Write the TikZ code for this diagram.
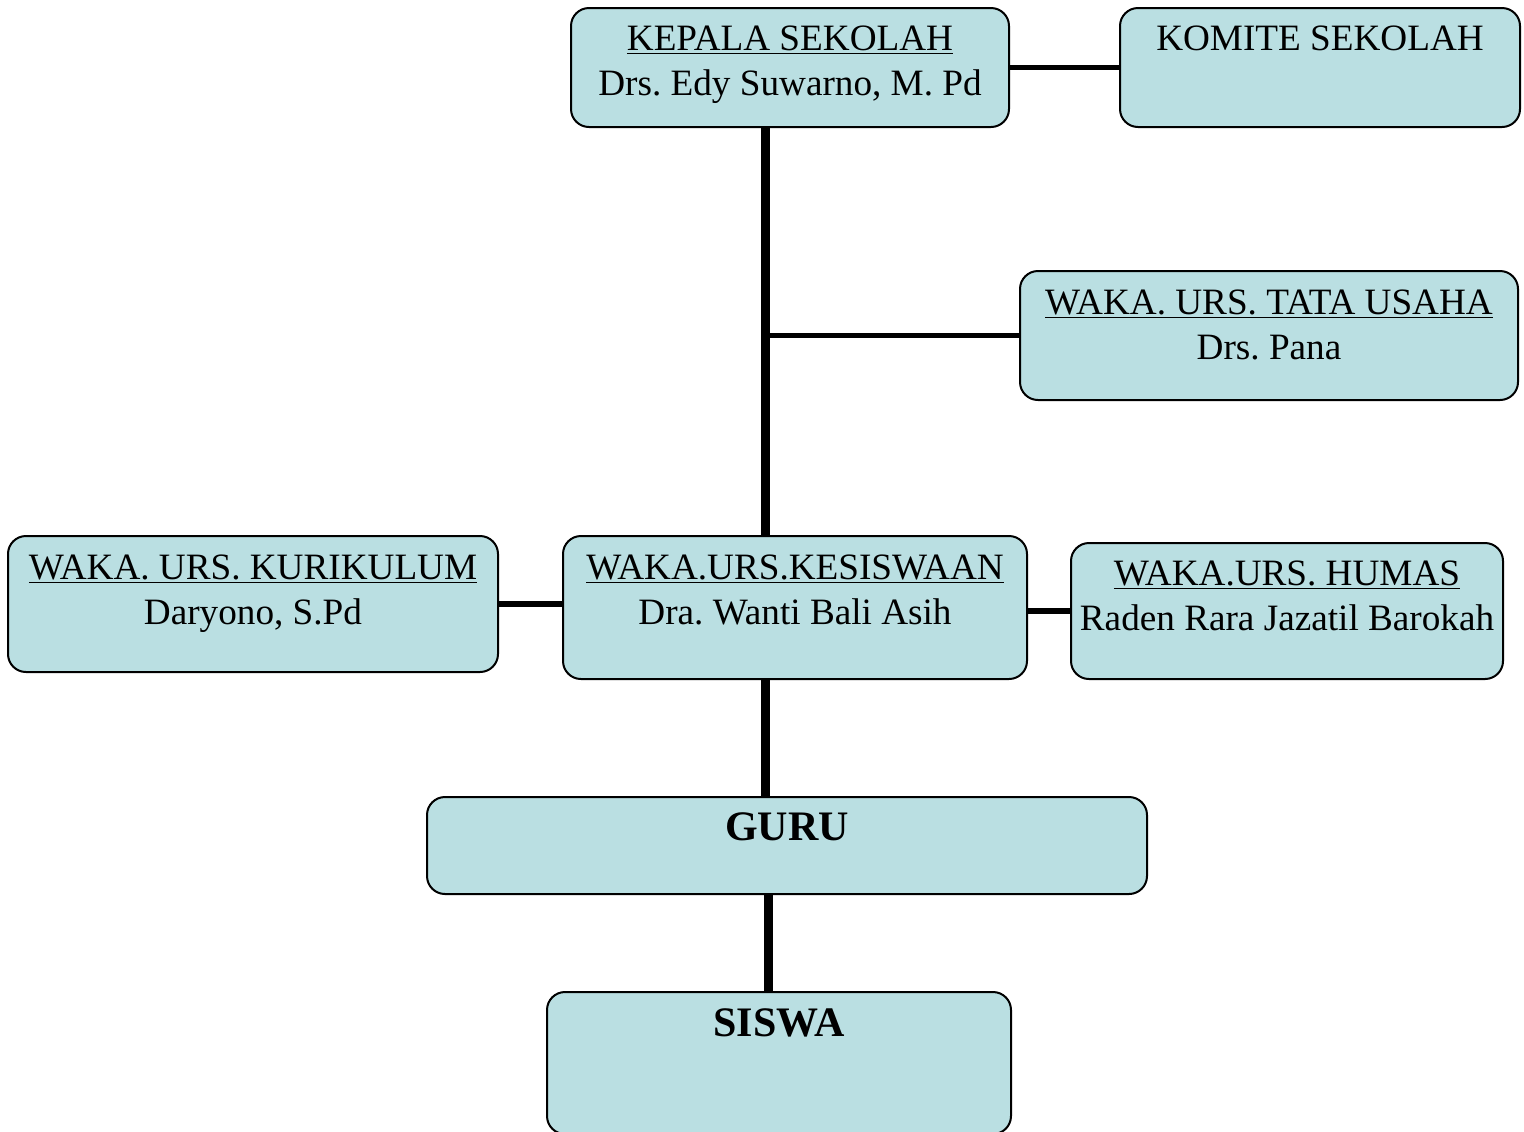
\documentclass[tikz,border=0pt]{standalone}
\usepackage{fontspec}
\setmainfont{Liberation Serif}
\usetikzlibrary{positioning}
\definecolor{boxblue}{RGB}{186,223,226}
\frenchspacing

\begin{document}
\begin{tikzpicture}[x=0.5pt,y=-0.5pt]
  \tikzset{BoxStyle/.style = {shape          = rectangle,
                              draw           = black,
                              fill           = boxblue,
                              line width     = 1pt,
                              rounded corners = 9pt,
                              inner sep      = 0pt,
                              outer sep      = 0pt}}
  \tikzset{NameStyle/.style = {anchor         = north,
                               align          = center,
                               inner sep      = 0pt,
                               font           = \fontsize{18.6}{22.5}\selectfont}}
  \tikzset{BoldStyle/.style = {anchor         = north,
                               inner sep      = 0pt,
                               font           = \fontsize{21}{25}\selectfont\bfseries}}
  \tikzset{ThickLine/.style = {line width = 4.5pt}}
  \tikzset{ThinLine/.style = {line width = 2.8pt}}
  \useasboundingbox (0,0) rectangle (1524,1131);
  \clip (0,0) rectangle (1524,1131);
  \fill[white] (0,0) rectangle (1524,1131);
  \coordinate (trunk) at (765,0);
  \coordinate (trunklow) at (768,0);
	%%% PIMPINAN %%%
	\node[BoxStyle, minimum width=219pt, minimum height=59.5pt](kepala) at (790,67.5){};
	\node[NameStyle](kepalatext) at ([yshift=-8.5pt]kepala.north){\underline{KEPALA SEKOLAH}\\Drs. Edy Suwarno, M. Pd};
	\node[BoxStyle, minimum width=200pt, minimum height=59.5pt](komite) at (1320,67.5){};
	\node[NameStyle](komitetext) at ([yshift=-8.5pt]komite.north){KOMITE SEKOLAH};
	\node[BoxStyle, minimum width=249pt, minimum height=64.5pt](tatausaha) at (1269,335.5){};
	\node[NameStyle](tatausahatext) at ([yshift=-9pt]tatausaha.north){\underline{WAKA. URS. TATA USAHA}\\Drs. Pana};
	%%% WAKA %%%
	\node[BoxStyle, minimum width=245pt, minimum height=68pt](kurikulum) at (253,604){};
	\node[NameStyle](kurikulumtext) at ([yshift=-9pt]kurikulum.north){\underline{WAKA. URS. KURIKULUM}\\Daryono, S.Pd};
	\node[BoxStyle, minimum width=232pt, minimum height=71.5pt](kesiswaan) at (795,607.5){};
	\node[NameStyle](kesiswaantext) at ([yshift=-9pt]kesiswaan.north){\underline{WAKA.URS.KESISWAAN}\\Dra. Wanti Bali Asih};
	\node[BoxStyle, minimum width=216pt, minimum height=68pt](humas) at (1287,611){};
	\node[NameStyle](humastext) at ([yshift=-8.5pt]humas.north){\underline{WAKA.URS. HUMAS}\\Raden Rara Jazatil Barokah};
	%%% GURU & SISWA %%%
	\node[BoxStyle, minimum width=360pt, minimum height=48.5pt](guru) at (787,845.5){};
	\node[BoldStyle](gurutext) at ([yshift=-7.5pt]guru.north){GURU};
	\node[BoxStyle, minimum width=232pt, minimum height=71pt](siswa) at (779,1063){};
	\node[BoldStyle](siswatext) at ([yshift=-8pt]siswa.north){SISWA};
	%%% GARIS %%%
	\draw[ThinLine](kepala.east) to (komite.west);
	\draw[ThickLine](kepala.south -| trunk) to (kesiswaan.north -| trunk);
	\draw[ThinLine](tatausaha.west -| trunk) to (tatausaha.west);
	\draw[ThinLine](kurikulum.east) to (kurikulum.east -| kesiswaan.west);
	\draw[ThinLine](humas.west -| kesiswaan.east) to (humas.west);
	\draw[ThickLine](kesiswaan.south -| trunk) to (guru.north -| trunk);
	\draw[ThickLine](guru.south -| trunklow) to (siswa.north -| trunklow);
\end{tikzpicture}
\end{document}
